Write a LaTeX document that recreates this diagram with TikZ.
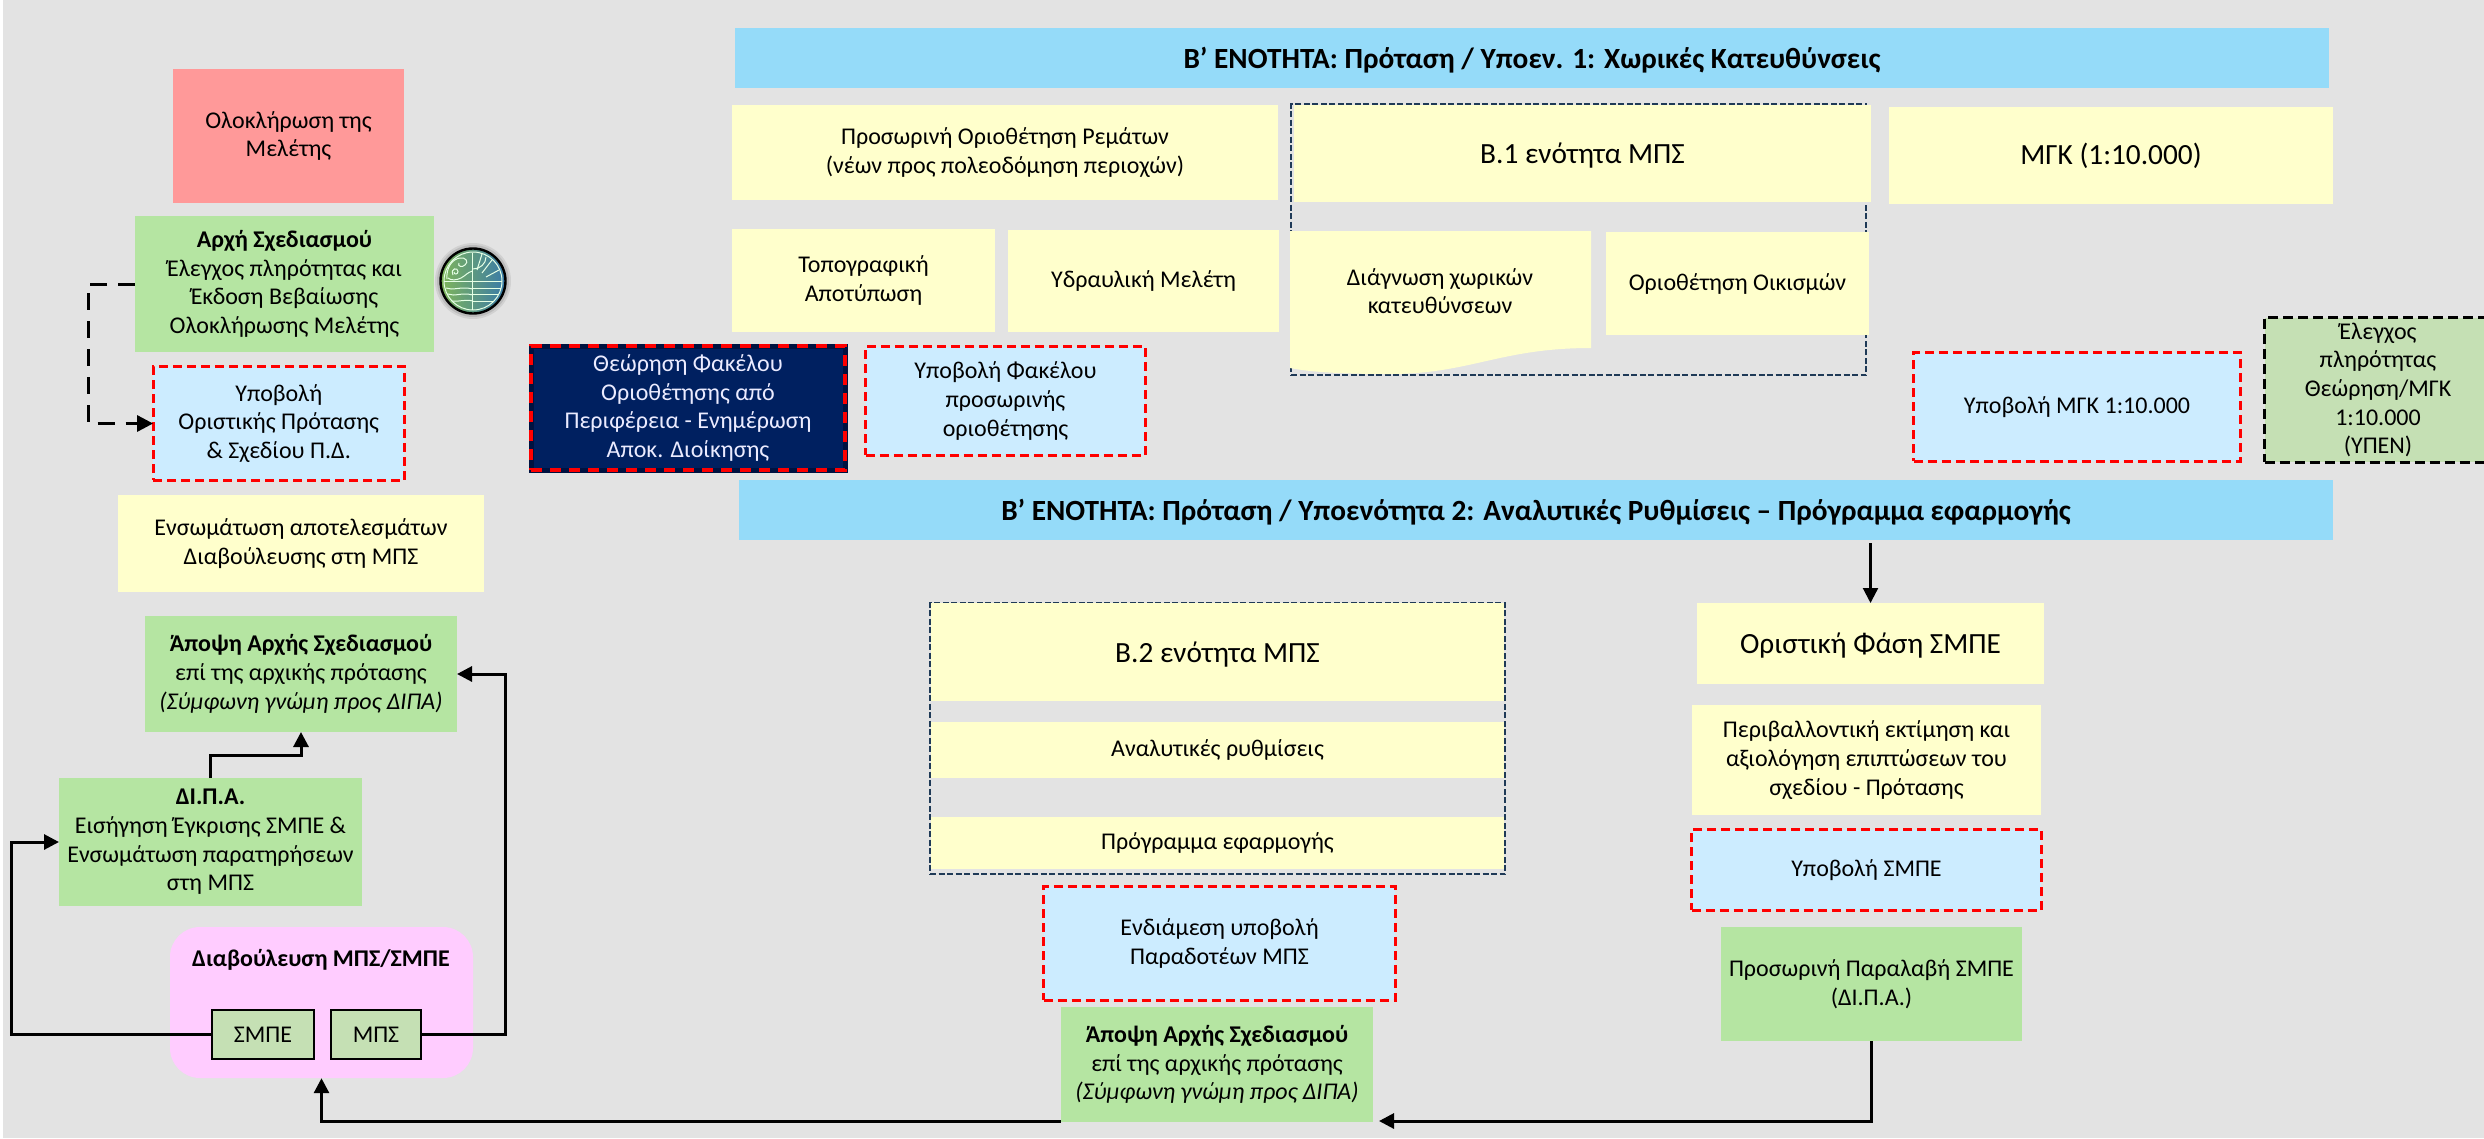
\documentclass[tikz,border=0pt]{standalone}
\usepackage{fontspec}
\setmainfont{Carlito}
\usetikzlibrary{arrows.meta,calc}
\definecolor{bgray}{HTML}{E3E3E3}
\definecolor{hblue}{HTML}{95DBF9}
\definecolor{yel}{HTML}{FFFFCC}
\definecolor{grn}{HTML}{B5E5A2}
\definecolor{lblue}{HTML}{CCECFF}
\definecolor{pinkb}{HTML}{FFCCFF}
\definecolor{redb}{HTML}{FF9999}
\definecolor{sgreen}{HTML}{C5E0B4}
\definecolor{navyb}{HTML}{002060}
\definecolor{navyd}{HTML}{001240}
\definecolor{dnavy}{HTML}{1F3A57}
\definecolor{logog}{HTML}{7FB55A}
\definecolor{logob}{HTML}{3A7BA8}
\newcommand{\fs}[2]{\fontsize{#1}{#2}\selectfont}
\newcommand{\bx}[7][]{%
  \node[boxbase,#2,minimum width={(#5-#3)*1pt},minimum height={(#6-#4)*1pt},#1]
     (#7) at ({(#3+#5)/2},{(#4+#6)/2}) {\BoxText};}
\newcommand{\sbx}[7][]{%
  \node[boxbase,#2,minimum width={(#5-#3-1.2)*1pt},minimum height={(#6-#4-1.2)*1pt},#1]
     (#7) at ({(#3+#5)/2},{(#4+#6)/2}) {\BoxText};}
\tikzset{
  boxbase/.style={rectangle,inner sep=0pt,outer sep=0pt,align=center,font=\fs{24}{28.7},text=black},
  yellowbox/.style={fill=yel},
  greenbox/.style={fill=grn},
  redbox/.style={fill=redb},
  headbox/.style={fill=hblue,font=\fs{29.3}{35}\bfseries,text height=24pt,text depth=4pt},
  bigtext/.style={font=\fs{29.3}{35},text height=24pt,text depth=4pt},
  submitbox/.style={fill=lblue,draw=red,line width=2.8pt,dash pattern=on 9pt off 5pt},
  groupbox/.style={draw=dnavy,line width=2pt,dash pattern=on 6pt off 2.5pt},
  checkbox/.style={fill=sgreen,draw=black,line width=2.4pt,dash pattern=on 10pt off 5pt},
  smallbox/.style={fill=sgreen,draw=black,line width=1.5pt},
  conn/.style={draw=black,line width=3pt,-{Triangle[length=15pt,width=15pt]}},
  dconn/.style={draw=black,line width=3pt,dash pattern=on 17pt off 11pt,-{Triangle[length=16pt,width=16pt]}}
}
\begin{document}
\begin{tikzpicture}[x=1pt,y=-1pt]
\useasboundingbox (0,0) rectangle (2484,1138);
\fill[bgray] (3,0) rectangle (2484,1138);
% group frames (below the yellow boxes)
\def\BoxText{}
\bx{groupbox}{1291}{104}{1866}{375}{g1}
\bx{groupbox}{930}{603}{1505}{874}{g2}
% left column
\def\BoxText{Ολοκλήρωση της\\Μελέτης}
\bx{redbox}{173}{69}{404}{203}{done}
\def\BoxText{\textbf{Αρχή Σχεδιασμού}\\Έλεγχος πληρότητας και\\Έκδοση Βεβαίωσης\\Ολοκλήρωσης Μελέτης}
\bx{greenbox}{135}{216}{434}{352}{arxi}
\def\BoxText{Υποβολή\\Οριστικής Πρότασης\\\& Σχεδίου Π.Δ.}
\sbx{submitbox}{152.5}{366}{405}{481}{ypob}
\def\BoxText{Ενσωμάτωση αποτελεσμάτων\\Διαβούλευσης στη ΜΠΣ}
\bx{yellowbox}{118}{495}{484}{592}{ensom}
\def\BoxText{\textbf{Άποψη Αρχής Σχεδιασμού}\\επί της αρχικής πρότασης\\\textit{(Σύμφωνη γνώμη προς ΔΙΠΑ)}}
\bx{greenbox}{145}{616}{457}{732}{ap1}
\def\BoxText{\textbf{ΔΙ.Π.Α.}\\Εισήγηση Έγκρισης ΣΜΠΕ \&\\Ενσωμάτωση παρατηρήσεων\\στη ΜΠΣ}
\bx{greenbox}{59}{778}{362}{906}{dipa}
% consultation
\node[rectangle,fill=pinkb,rounded corners=30pt,inner sep=0pt,minimum width=303pt,minimum height=151pt] (pink) at (321.5,1002.5) {};
\node[font=\fs{24}{28.7}\bfseries,inner sep=0pt] (pinkt) at (321,960) {Διαβούλευση ΜΠΣ/ΣΜΠΕ};
\def\BoxText{ΣΜΠΕ}
\bx{smallbox}{212}{1010}{314}{1059}{smpe}
\def\BoxText{ΜΠΣ}
\bx{smallbox}{331}{1010}{421}{1059}{mps}
% logo
\begin{scope}[shift={(473,281)}]
  \fill[black,opacity=.08] (0,0) circle (38);
  \fill[black,opacity=.10] (0,0) circle (36);
  \shade[left color=logog,right color=logob] (0,0) circle (32);
  \draw[black,line width=2.4pt] (0,0) circle (32.5);
  \begin{scope}[draw=white!90!green,line width=1pt]
    \draw (0,0) circle (29);
    \draw (-.5,-28.5) -- (-.5,28.5);
    \draw (-28.7,0) -- (28.7,0);
    \draw (0,7) -- (28,7);
    \draw (0,13) -- (26,13);
    \draw (0,20) -- (21,20);
    \draw (-27,7) .. controls (-20,10) and (-13,5) .. (0,8);
    \draw (-25,13) .. controls (-18,16) and (-12,11) .. (0,14);
    \draw (-21,20) .. controls (-14,21) and (-8,18) .. (0,20);
    \draw (0,-12) arc (90:0:13 and 12);
    \draw (4,-11) -- (9,-27);
    \draw (9,-8) -- (19,-21);
    \draw (13,-4) -- (26,-11);
    \draw (-26,-2) .. controls (-27,-13) and (-21,-22) .. (-13,-23) .. controls (-7,-24) and (-4,-19) .. (-8,-16) .. controls (-11,-13) and (-16,-15) .. (-14,-18);
    \draw (-25,-3) .. controls (-22,0) and (-16,-1) .. (-12,-3) .. controls (-8,-5) and (-5,-9) .. (-.5,-10);
    \draw (-20,-6) .. controls (-23,-13) and (-15,-14) .. (-15,-9.5) .. controls (-15,-6.5) and (-19,-6) .. (-19,-9);
  \end{scope}
\end{scope}
% navy box
\node[rectangle,fill=navyb,draw=navyd,line width=5pt,minimum width=314pt,minimum height=124pt,inner sep=0pt] (navyback) at (688,408) {};
\node[rectangle,draw=red,line width=3.8pt,dash pattern=on 11pt off 8pt,minimum width=314pt,minimum height=124pt,inner sep=0pt,align=center,text=white!92!blue,font=\fs{24}{28.7}] (theor) at (688,408) {Θεώρηση Φακέλου\\Οριοθέτησης από\\Περιφέρεια - Ενημέρωση\\Αποκ. Διοίκησης};
% section 1
\def\BoxText{Β’ ΕΝΟΤΗΤΑ: Πρόταση / Υποεν. 1: Χωρικές Κατευθύνσεις}
\bx{headbox}{735}{28}{2329}{88}{h1}
\def\BoxText{Προσωρινή Οριοθέτηση Ρεμάτων\\(νέων προς πολεοδόμηση περιοχών)}
\bx{yellowbox}{732}{105}{1278}{200}{rem}
\def\BoxText{Β.1 ενότητα ΜΠΣ}
\bx{yellowbox,bigtext}{1294}{105}{1871}{202}{b1}
\def\BoxText{ΜΓΚ (1:10.000)}
\bx[text height=22pt]{yellowbox,bigtext}{1889}{107}{2333}{204}{mgk}
\def\BoxText{Τοπογραφική\\Αποτύπωση}
\bx{yellowbox}{732}{229}{995}{332}{topo}
\def\BoxText{Υδραυλική Μελέτη}
\bx{yellowbox}{1008}{230}{1279}{332}{ydr}
\fill[yel] (1290,231) -- (1591,231) -- (1591,348) .. controls (1500,348) and (1470,374) .. (1390,374) .. controls (1340,374) and (1310,372) .. (1290,368) -- cycle;
\node[font=\fs{24}{28.7},align=center,inner sep=0pt] (diag) at (1440,291) {Διάγνωση χωρικών\\κατευθύνσεων};
\def\BoxText{Οριοθέτηση Οικισμών}
\bx{yellowbox}{1606}{232}{1869}{335}{oik}
\def\BoxText{Υποβολή Φακέλου\\προσωρινής\\οριοθέτησης}
\sbx{submitbox}{865}{346}{1146}{456}{yfak}
\def\BoxText{Υποβολή ΜΓΚ 1:10.000}
\sbx{submitbox}{1913}{352}{2241}{462}{ymgk}
\def\BoxText{Έλεγχος\\πληρότητας\\Θεώρηση/ΜΓΚ\\1:10.000\\(ΥΠΕΝ)}
\sbx{checkbox}{2264}{317}{2492}{463}{elen}
% section 2
\def\BoxText{Β’ ΕΝΟΤΗΤΑ: Πρόταση / Υποενότητα 2: Αναλυτικές Ρυθμίσεις – Πρόγραμμα εφαρμογής}
\bx{headbox}{739}{480}{2333}{540}{h2}
\def\BoxText{Β.2 ενότητα ΜΠΣ}
\bx{yellowbox,bigtext}{931}{603}{1504}{701}{b2}
\def\BoxText{Αναλυτικές ρυθμίσεις}
\bx{yellowbox}{931}{722}{1504}{778}{anal}
\def\BoxText{Πρόγραμμα εφαρμογής}
\bx{yellowbox}{931}{817}{1504}{869}{prog}
\def\BoxText{Ενδιάμεση υποβολή\\Παραδοτέων ΜΠΣ}
\sbx{submitbox}{1043}{886}{1396}{1001}{endi}
\def\BoxText{\textbf{Άποψη Αρχής Σχεδιασμού}\\επί της αρχικής πρότασης\\\textit{(Σύμφωνη γνώμη προς ΔΙΠΑ)}}
\bx{greenbox}{1061}{1007}{1373}{1122}{ap2}
\def\BoxText{Οριστική Φάση ΣΜΠΕ}
\bx{yellowbox,bigtext}{1697}{603}{2044}{684}{ofasi}
\def\BoxText{Περιβαλλοντική εκτίμηση και\\αξιολόγηση επιπτώσεων του\\σχεδίου - Πρότασης}
\bx{yellowbox}{1692}{705}{2041}{815}{periv}
\def\BoxText{Υποβολή ΣΜΠΕ}
\sbx{submitbox}{1691}{829}{2042}{911}{ysmpe}
\def\BoxText{Προσωρινή Παραλαβή ΣΜΠΕ\\(ΔΙ.Π.Α.)}
\bx{greenbox}{1721}{927}{2022}{1041}{par}
% connectors
\coordinate (a0) at (1870.5,543);
\coordinate (d0) at (135,284);
\coordinate (g2br) at (1379,1121);
\coordinate (g2bl) at (1061,1121);
\draw[conn,line width=2.2pt] (a0) -- (ofasi.north);
\draw[conn] (par.south) |- (g2br);
\draw[conn] (g2bl) -| (pink.south);
\draw[conn] (mps.east) -- ++(84,0) |- (ap1.east);
\draw[conn] (smpe.west) -- ++(-201,0) |- (dipa.west);
\draw[conn] (dipa.north) -- ++(0,-23) -| (ap1.south);
\draw[dconn] (d0) -- ++(-47,0) |- (ypob.west);
\end{tikzpicture}
\end{document}
